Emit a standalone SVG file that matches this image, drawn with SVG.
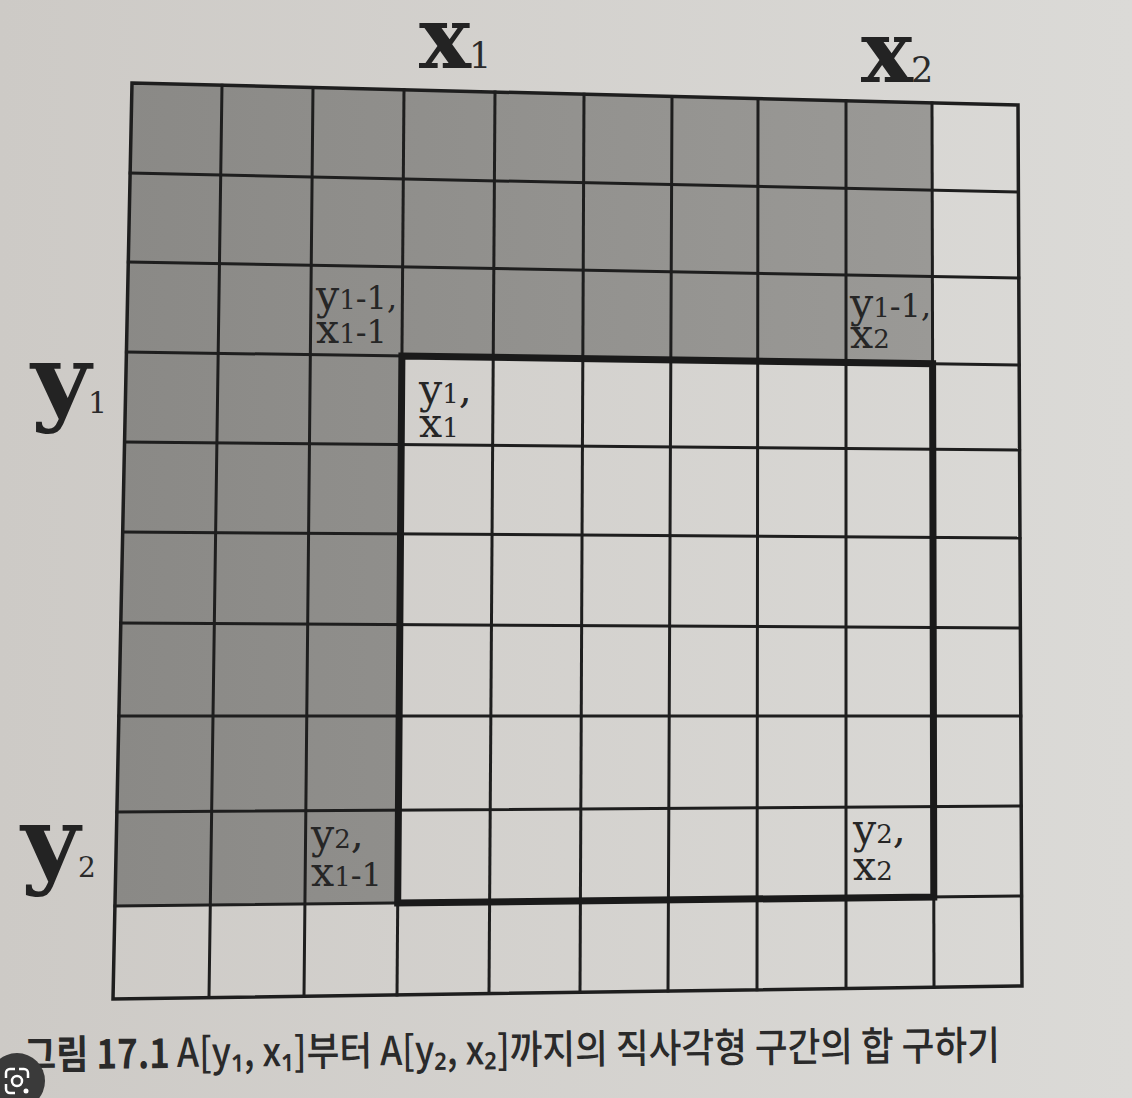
<svg xmlns="http://www.w3.org/2000/svg" width="1132" height="1098" viewBox="0 0 1132 1098">
  <defs>
    <linearGradient id="paper" x1="0" y1="0" x2="1" y2="0">
      <stop offset="0" stop-color="#cdcac6"/>
      <stop offset="1" stop-color="#dbdad7"/>
    </linearGradient>
    <linearGradient id="shade" x1="0" y1="0" x2="1" y2="0">
      <stop offset="0" stop-color="#8a8986"/>
      <stop offset="1" stop-color="#9a9996"/>
    </linearGradient>
    <style>
      .grid line { stroke: #1e1e1e; stroke-width: 3; stroke-linecap: square; }
      .border { fill: none; stroke: #1e1e1e; stroke-width: 3.5; stroke-linejoin: miter; }
      .bold { fill: none; stroke: #1a1a1a; stroke-width: 7; stroke-linejoin: miter; }
      .big { font-family: "DejaVu Serif", "Liberation Serif", serif; font-weight: 700; fill: #232323; }
      .bigsub { font-family: "DejaVu Serif", "Liberation Serif", serif; font-weight: 400; fill: #2a2a2a; }
      .lab { font-family: "DejaVu Serif", "Liberation Serif", serif; font-size: 41px; fill: #262626; }
      .lab .s { font-size: 26px; }
      .lab .m { font-size: 32px; }
      .cap { font-family: "Noto Sans CJK KR", "Noto Sans", sans-serif; font-size: 40px; fill: #2a2a2a; }
    </style>
  </defs>

  <rect id="background" x="0" y="0" width="1132" height="1098" fill="url(#paper)"/>

  <g id="shaded-area">
    <polygon points="132,83 932,102.9 932.6,363.7 401.9,356 397.7,902.9 115,906" fill="url(#shade)"/>
  </g>

  <g id="grid" class="grid">
    <line x1="222" y1="85.2" x2="209" y2="997.6"/>
    <line x1="313" y1="87.5" x2="304" y2="996.3"/>
    <line x1="404" y1="89.8" x2="397" y2="994.9"/>
    <line x1="495" y1="92" x2="489" y2="993.6"/>
    <line x1="584" y1="94.2" x2="580" y2="992.3"/>
    <line x1="672" y1="96.4" x2="668" y2="991.1"/>
    <line x1="758" y1="98.5" x2="757" y2="989.8"/>
    <line x1="846" y1="100.7" x2="846" y2="988.5"/>
    <line x1="932" y1="102.9" x2="934" y2="987.3"/>
    <line x1="130.1" y1="173" x2="1018.4" y2="192"/>
    <line x1="128.3" y1="262" x2="1018.8" y2="278"/>
    <line x1="126.4" y1="352" x2="1019.2" y2="365"/>
    <line x1="124.6" y1="442" x2="1019.6" y2="450"/>
    <line x1="122.7" y1="532" x2="1020" y2="538"/>
    <line x1="120.8" y1="623" x2="1020.4" y2="628"/>
    <line x1="118.9" y1="716" x2="1020.8" y2="716"/>
    <line x1="116.9" y1="812" x2="1021.2" y2="806"/>
    <line x1="115" y1="906" x2="1021.6" y2="896"/>
    <polygon class="border" points="132,83 1018,105 1022,986 113,999"/>
  </g>

  <g id="range">
    <polygon class="bold" points="401.9,356 932.6,363.7 933.8,897 397.7,902.9"/>
  </g>

  <g id="axis-labels">
    <text class="big" x="419" y="68" font-size="86" textLength="52" lengthAdjust="spacingAndGlyphs">x</text>
    <text class="bigsub" x="469" y="68" font-size="35">1</text>
    <text class="big" x="861" y="82" font-size="86" textLength="52" lengthAdjust="spacingAndGlyphs">x</text>
    <text class="bigsub" x="911" y="82" font-size="35">2</text>
    <text class="big" x="31" y="413" font-size="95" textLength="60" lengthAdjust="spacingAndGlyphs">y</text>
    <text class="bigsub" x="88" y="413" font-size="30">1</text>
    <text class="big" x="21" y="875" font-size="97" textLength="59" lengthAdjust="spacingAndGlyphs">y</text>
    <text class="bigsub" x="78" y="877" font-size="28">2</text>
  </g>

  <g id="cell-labels">
    <text class="lab" x="316" y="309">y<tspan class="s">1</tspan><tspan class="m">-1,</tspan><tspan x="316" y="343">x</tspan><tspan class="s">1</tspan><tspan class="m">-1</tspan></text>
    <text class="lab" x="850" y="317">y<tspan class="s">1</tspan><tspan class="m">-1,</tspan><tspan x="850" y="348">x</tspan><tspan class="s">2</tspan></text>
    <text class="lab" x="419" y="403">y<tspan class="s">1</tspan>,<tspan x="419" y="437">x</tspan><tspan class="s">1</tspan></text>
    <text class="lab" x="311" y="848">y<tspan class="s">2</tspan>,<tspan x="311" y="886">x</tspan><tspan class="s">1</tspan><tspan class="m">-1</tspan></text>
    <text class="lab" x="853" y="843">y<tspan class="s">2</tspan>,<tspan x="853" y="880">x</tspan><tspan class="s">2</tspan></text>
  </g>

  <g id="caption" transform="rotate(-0.5 512 1062)">
    <text class="cap" x="24" y="1065" font-weight="700" textLength="146" lengthAdjust="spacingAndGlyphs">그림 17.1</text>
    <text class="cap" x="177" y="1064" font-weight="500" textLength="823" lengthAdjust="spacingAndGlyphs">A[y₁, x₁]부터 A[y₂, x₂]까지의 직사각형 구간의 합 구하기</text>
  </g>

  <g id="lens-badge">
    <circle cx="17" cy="1081" r="28" fill="#3a3a3a"/>
    <path d="M6,1078 v-5 a4,4 0 0 1 4,-4 h5 M28,1078 v-5 a4,4 0 0 0 -4,-4 h-5 M6,1084 v5 a4,4 0 0 0 4,4 h5" fill="none" stroke="#ffffff" stroke-width="2.5"/>
    <circle cx="17" cy="1081" r="5" fill="none" stroke="#ffffff" stroke-width="2.5"/>
    <circle cx="26" cy="1091" r="2.5" fill="#ffffff"/>
  </g>
</svg>
